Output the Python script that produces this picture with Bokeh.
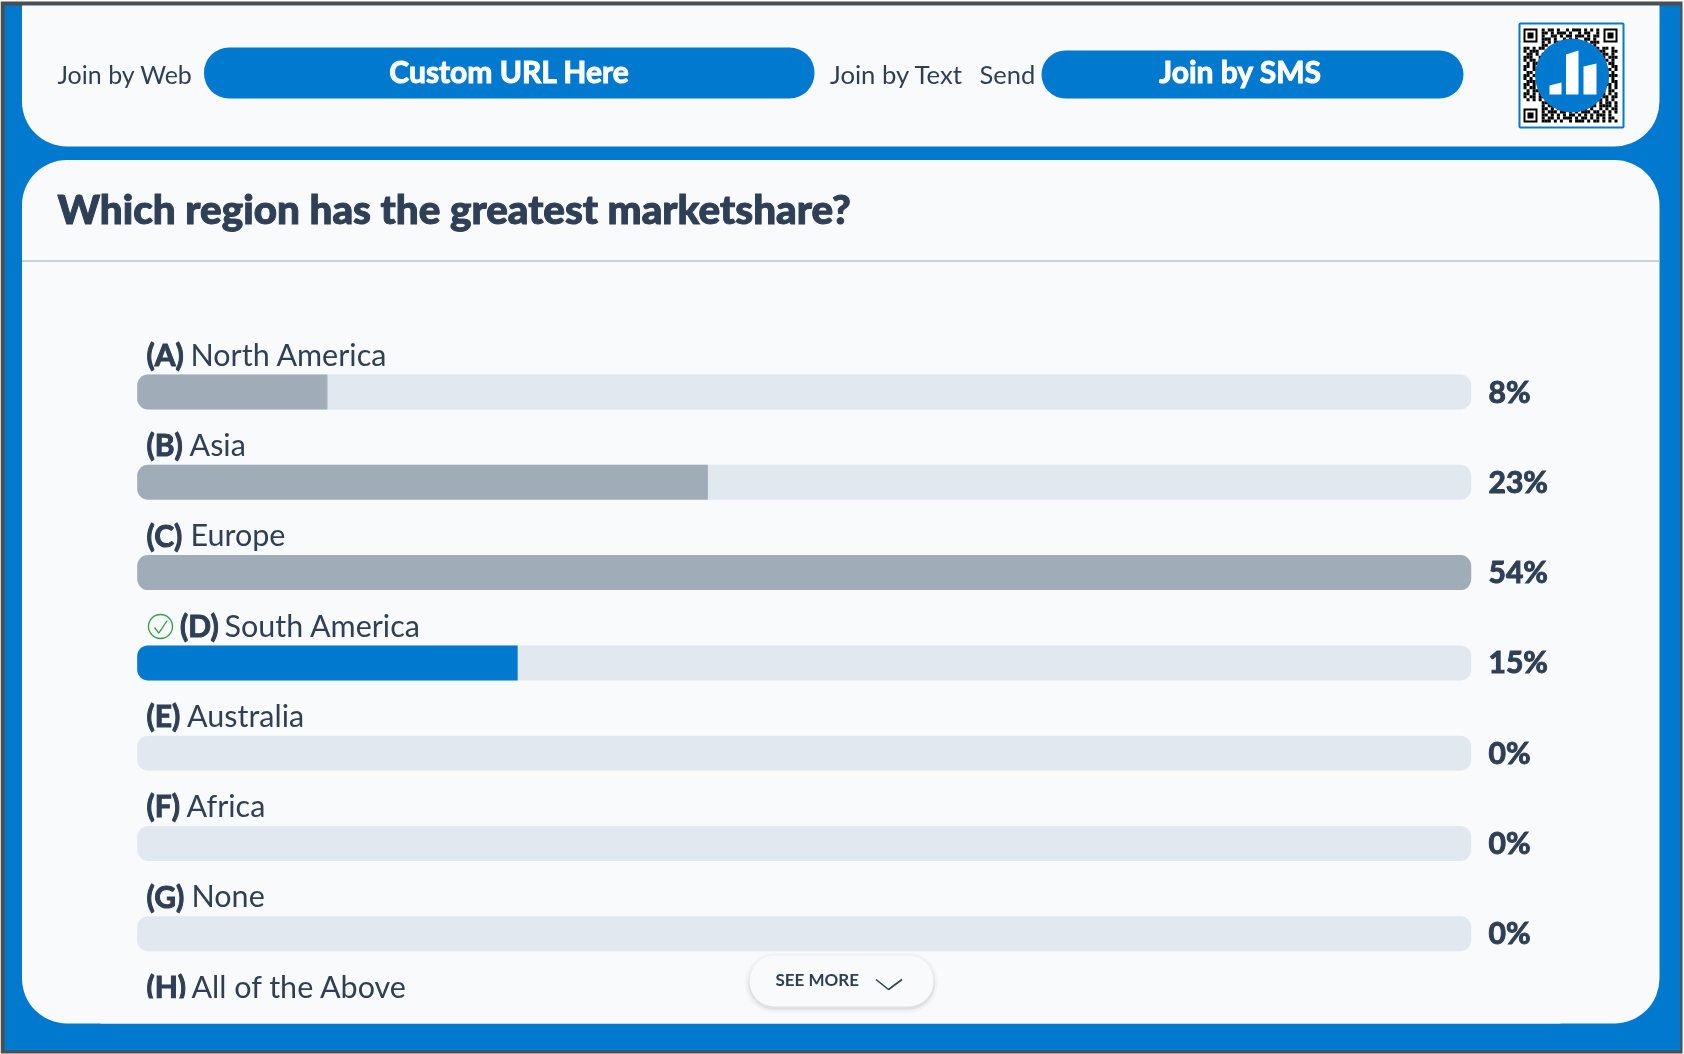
from bokeh.plotting import figure
from bokeh.models import Range1d
from bokeh.core.properties import value
from bokeh.embed import file_html
from bokeh.resources import INLINE

# ---- chart data
question = "Which region has the greatest marketshare?"
letters = ["(A)", "(B)", "(C)", "(D)", "(E)", "(F)", "(G)", "(H)"]
categories = ["North America", "Asia", "Europe", "South America", "Australia", "Africa", "None", "All of the Above"]
shares = [7.7, 23.1, 54.0, 15.4, 0.0, 0.0, 0.0]
pct_labels = ["8%", "23%", "54%", "15%", "0%", "0%", "0%"]
correct = "South America"
web_label = "Custom URL Here"
sms_label = "Join by SMS"

# ---- layout (pixels)
W, H = 1684, 1054
BAR_L, BAR_R = 136.7, 1470.7
ROW0, ROW_STEP, BAR_H = 391.5, 90.3, 35.0
name_x = [190, 189, 190, 224, 186.5, 186, 191, 191]
letter_x = [146, 146, 146, 179.5, 146, 146, 146, 146]

BLUE = "#0079CE"
PANEL = "#F9FAFC"
TRACK = "#E2E8F0"
GREY = "#A0ADB9"
INK = "#2F3F55"
FONT = value("Lato")
HEAD_FONT = value("Lato")
BASE_SHIFT = 0.42  # alphabetic text lands this many font sizes under the given y

maxv = max(shares)
unit = (BAR_R - BAR_L) / maxv
p = figure(width=W, height=H, output_backend="svg", toolbar_location=None,
           x_range=Range1d((0 - BAR_L) / unit, (W - BAR_L) / unit),
           y_range=Range1d((H - ROW0) / ROW_STEP, (0 - ROW0) / ROW_STEP),
           min_border=0, outline_line_color=None, background_fill_color="white",
           border_fill_color="white", x_axis_type=None, y_axis_type=None)
p.grid.visible = False
p.styles = {"position": "fixed", "left": "0px", "top": "0px"}
p.extra_x_ranges["px"] = Range1d(0, W)
p.extra_y_ranges["px"] = Range1d(H, 0)
PX = dict(x_range_name="px", y_range_name="px")


def box(l, r, t, b, color, radius=0, alpha=1.0):
    p.quad(left=[l], right=[r], top=[t], bottom=[b], fill_color=color, fill_alpha=alpha,
           line_color=None, border_radius=radius, **PX)


def label(x, y, s, size, color=INK, bold=False, align="left", baseline="alphabetic", font=FONT, outline=True):
    if baseline == "alphabetic":
        y = y - BASE_SHIFT * size
    p.text(x=[x], y=[y], text=[s], text_font=font, text_font_size=f"{size}px", text_color=color,
           text_outline_color=color if (bold and outline) else None,
           text_font_style="bold" if bold else "normal", text_align=align, text_baseline=baseline, **PX)


# frame and panels
box(0, 1682, 1, 1053, "#4D4D4D")
box(4, 1680, 5, 1050, BLUE)
box(21.5, 1659, 5, 146, PANEL, (0, 0, 45, 45))
box(21.5, 1659, 159.5, 1023, PANEL, (45, 45, 45, 45))
p.line([21.5, 1659], [260.5, 260.5], line_color="#B3C2D6", line_width=1.5, **PX)

# header
label(57, 84, "Join by Web", 25, font=HEAD_FONT)
box(203.5, 814, 47, 98, BLUE, 25)
label(509, 70.5, web_label, 30, "white", True, "center", "middle", font=HEAD_FONT)
label(829.5, 84, "Join by Text", 25.7, font=HEAD_FONT)
label(979, 84, "Send", 25.5, font=HEAD_FONT)
box(1041, 1463, 50, 98, BLUE, 24)
label(1240, 70.5, sms_label, 30, "white", True, "center", "middle", font=HEAD_FONT)

# QR badge
qr_rows = [
    "......#.##.#..#.###.#.#.#......",
    "......##.#.###.#..#.##..#......",
    "......#..##.#.##.###.#.##......",
    "......###.#..#.#.#..##.#.......",
    "......#.#.##.###..#.#.###......",
    "......##..#.#.#.##.###.#.......",
    "##.#.##.#.##..#.#.##.#..#.##.#.",
    "#.###..#.#.####.#..#.##.###..##",
    ".##.#.##.##...#.##.#.#.#..##.#.",
    "###..#..#.#.##.#.###.##.#.#.###",
    "#.##.##.###.#.#..#.#.#.##.##.#.",
    ".#.##..#.#..#.###.##.#..#.#.##.",
    "##.#.##.#.###.#.#.#..###.##..##",
    "#..##.#.##.#..##.##.#.#.#.###.#",
    ".##.#.#.#.###.#.#..##.##.#.#.#.",
    "##.##.##..#.#.###.#.#.#.##..###",
    "#.#..#.#.##.##.#.##.##.#..##.#.",
    ".###.##.#.#.#.##.#.#.#.###.#.##",
    "##.#.#.##.###.#.###.#.##.#.##.#",
    "#.##..#.#.#..#.#.#.##.#..##.#.#",
    ".#.###.##.#.##.##.#.#.###.#.##.",
    "##.#.#.#.##.#.#.#.##.#.#.##.#.#",
    "#.##.###.#.##.#.##.#.##.#.##.##",
    ".#.#.#.##.#.#.###.#.#.#.##.#.#.",
    "......###.#.#.#..#.###.#.#.##.#",
    "......#.##.##.###.#.#.##.####.#",
    "......##.#.#.#.#.##.#.#..#.#.##",
    "......#.###.##.#.#.###.##.#.#.#",
    "......##.#.#.#.##.#.#.#.###.#..",
    "......#.##.#.###.#.##.#.#.#.##.",
    "......###.#.#..#.###.#.##.#.#.#",
]
QX, QY, CELL = 1523.0, 28.0, 94.0 / 31
box(1518, 1624, 22, 128, BLUE, 2)
box(1520, 1622, 24, 126, "white")
cells = [(c, r) for r, row in enumerate(qr_rows) for c, ch in enumerate(row) if ch == "#"]
p.quad(left=[QX + c * CELL for c, r in cells], right=[QX + (c + 1) * CELL for c, r in cells],
       top=[QY + r * CELL for c, r in cells], bottom=[QY + (r + 1) * CELL for c, r in cells],
       fill_color="black", line_color=None, **PX)
for fx, fy in [(QX, QY), (QX + 94 - 14, QY), (QX, QY + 94 - 14)]:
    box(fx, fx + 14, fy, fy + 14, "black")
    box(fx + 2, fx + 12, fy + 2, fy + 12, "white")
    box(fx + 4, fx + 10, fy + 4, fy + 10, "black")
p.scatter([1571.5], [75], size=74, marker="circle", fill_color=BLUE, line_color=None, **PX)
p.patches(xs=[[1549, 1561, 1561, 1549], [1565.5, 1578, 1578, 1565.5], [1583, 1596, 1596, 1583]],
          ys=[[85, 82, 94, 94], [54, 50, 94, 94], [66, 63, 94, 94]],
          fill_color="white", line_color=None, **PX)

# question
label(57, 225, question, 40.4, bold=True, font=value("Lato Black"))

# bars, through the share / row scales
rows = list(range(len(shares)))
hbar_h = BAR_H / ROW_STEP
p.hbar(y=rows, left=0, right=maxv, height=hbar_h, fill_color=TRACK, line_color=None, border_radius=11)
for i, v in zip(rows, shares):
    if v <= 0:
        continue
    col = BLUE if categories[i] == correct else GREY
    rad = 11 if v >= maxv else (11, 0, 0, 11)
    p.hbar(y=[i], left=[0], right=[v], height=hbar_h, fill_color=col, line_color=None, border_radius=rad)

# percent labels
p.text(x=[(1488 - BAR_L) / unit] * len(rows), y=[r - 1.5 / ROW_STEP for r in rows], text=pct_labels, text_font=FONT,
       text_font_size="30px", text_font_style="bold", text_color=INK, text_outline_color=INK,
       text_align="left", text_baseline="middle")

# option labels
for i, (lt, nm) in enumerate(zip(letters, categories)):
    base = ROW0 + i * ROW_STEP - BAR_H / 2 - 8
    label(letter_x[i], base, lt, 30, bold=True)
    label(name_x[i], base, nm, 30.5)

# clip of overflowing row H
box(100, 1560, 998, 1023, PANEL)

# correct-answer tick
p.scatter([160], [626], size=24, marker="circle", fill_color=None, line_color="#2EA043", line_width=1.3, **PX)
p.line([154, 158.3, 166.7], [627, 632.7, 620], line_color="#2EA043", line_width=1.3, **PX)

# see more button
for grow, a in [(5, 0.012), (4, 0.02), (2, 0.03), (1, 0.04)]:
    box(749 - grow, 933 + grow, 955 - grow + 2, 1006 + grow + 2, "black", 25 + grow, a)
box(749, 933, 955, 1006, PANEL, 25)
label(775, 979, "SEE MORE", 17, bold=True, baseline="middle", outline=False)
p.line([875.5, 888, 901.5], [979, 989, 979], line_color=INK, line_width=1.6, **PX)

open("out.html", "w").write(file_html(p, INLINE))
